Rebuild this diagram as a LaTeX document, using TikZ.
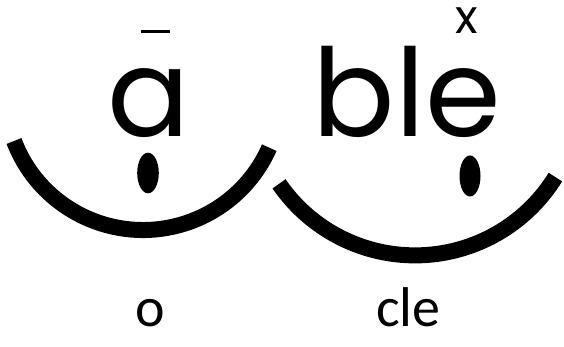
\documentclass[tikz,border=0pt]{standalone}
\usepackage{fontspec}
\setmainfont{Poppins}
\newfontfamily\calib{Carlito}
\begin{document}
\begin{tikzpicture}[x=1pt,y=1pt,
  bigtxt/.style={inner sep=0pt,anchor=base,font=\fontsize{122}{130}\selectfont},
  smalltxt/.style={inner sep=0pt,anchor=base,font=\fontsize{47}{50}\selectfont},
  lowtxt/.style={inner sep=0pt,anchor=base,font=\calib\fontsize{56}{60}\selectfont},
  smile/.style={line width=16pt,line cap=butt},
  eye/.style={fill=black}]
\useasboundingbox (0,0) rectangle (564,347);
% texts
\node[bigtxt] (a) at (149,210) {a};
\node[bigtxt] (ble) at (407,210) {ble};
\node[smalltxt] (x) at (467,313) {x};
\node[lowtxt] (o) at (150,20) {o};
\node[lowtxt] (cle) at (408.5,20) {cle};
% macron
\draw[line width=3pt] (141,315) -- (170,315);
% smiles
\draw[smile] (143,255) ++(200.8:138) arc[start angle=200.8,end angle=336.2,radius=138];
\draw[smile] (415,256.6) ++(214.5:165) arc[start angle=214.5,end angle=328.3,radius=165];
% eyes
\fill[eye] (148,174) ellipse[x radius=10.8,y radius=20.3];
\fill[eye] (470,171) ellipse[x radius=10.5,y radius=20.5];
\end{tikzpicture}
\end{document}
